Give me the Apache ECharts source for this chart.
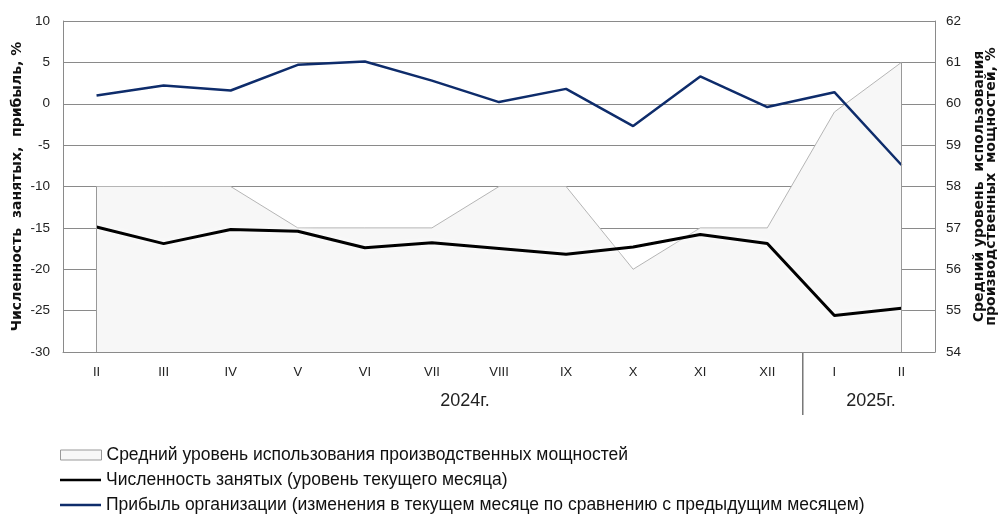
<!DOCTYPE html>
<html>
<head>
<meta charset="utf-8">
<script src="https://cdn.jsdelivr.net/npm/echarts@6/dist/echarts.min.js"></script>
<style>
  html, body { margin: 0; padding: 0; background: #fff; }
  #chart { width: 999px; height: 519px; }
</style>
</head>
<body>
<div id="chart"></div>
<script>
(function () {
    var months = ['II', 'III', 'IV', 'V', 'VI', 'VII', 'VIII', 'IX', 'X', 'XI', 'XII', 'I', 'II'];
    var years = ['2024г.', '2025г.'];
    // количество месяцев в каждом году
    var yearSpan = [11, 2];

    var capacity = [58, 58, 58, 57, 57, 57, 58, 58, 56, 57, 57, 59.8, 61];
    var employed = [-14.9, -16.9, -15.2, -15.4, -17.4, -16.8, -17.5, -18.2, -17.3, -15.8, -16.9, -25.6, -24.7];
    var profit = [1.0, 2.2, 1.6, 4.7, 5.1, 2.8, 0.2, 1.8, -2.7, 3.3, -0.4, 1.4, -7.4];

    var names = [
        'Средний уровень использования производственных мощностей',
        'Численность занятых (уровень текущего месяца)',
        'Прибыль организации (изменения в текущем месяце по сравнению с предыдущим месяцем)'
    ];

    var font = 'Liberation Sans, Arial, sans-serif';
    var titleFont = 'DejaVu Sans, Liberation Sans, sans-serif';
    var gridColor = '#8a8a8a';
    var navy = '#0e2c6b';

    var myChart = echarts.init(document.getElementById('chart'));

    var last = capacity.length - 1;

    function legendRow(name, top, height, style) {
        return {
            orient: 'vertical',
            left: 55,
            top: top,
            itemWidth: 41,
            itemHeight: height,
            icon: 'rect',
            selectedMode: false,
            textStyle: { fontSize: 17.5, color: '#111', fontFamily: font },
            data: [{ name: name, itemStyle: style }]
        };
    }

    var option = {
        animation: false,
        textStyle: { fontFamily: font },
        grid: { left: 63, right: 64, top: 21, height: 331, outerBoundsMode: 'none', containLabel: false },
        legend: [
            legendRow(names[0], 441, 10, { color: '#f7f7f7', borderColor: '#999', borderWidth: 1 }),
            legendRow(names[1], 466, 2.5, { color: '#000', borderWidth: 0 }),
            legendRow(names[2], 491, 2.5, { color: navy, borderWidth: 0 })
        ],
        xAxis: {
            type: 'category',
            data: months,
            boundaryGap: true,
            axisLine: { onZero: false, lineStyle: { color: gridColor } },
            axisTick: { show: false },
            axisLabel: { color: '#222', fontSize: 13, margin: 14 }
        },
        yAxis: [
            {
                type: 'value',
                min: -30,
                max: 10,
                interval: 5,
                name: 'Численность  занятых,  прибыль, %',
                nameLocation: 'middle',
                nameRotate: 90,
                nameGap: 39,
                nameMoveOverlap: false,
                nameTextStyle: { fontSize: 14, fontWeight: 'bold', color: '#111', fontFamily: titleFont },
                axisLine: { show: true, lineStyle: { color: gridColor } },
                axisTick: { show: false },
                axisLabel: { color: '#222', fontSize: 13.5, margin: 13 },
                splitLine: { lineStyle: { color: gridColor, width: 1 } }
            },
            {
                type: 'value',
                min: 54,
                max: 62,
                interval: 1,
                position: 'right',
                name: 'Средний уровень  использования\nпроизводственных  мощностей, %',
                nameLocation: 'middle',
                nameRotate: 90,
                nameGap: 36,
                nameTextStyle: { fontSize: 14, fontWeight: 'bold', color: '#111', lineHeight: 12, fontFamily: titleFont },
                axisLine: { show: true, lineStyle: { color: gridColor } },
                axisTick: { show: false },
                axisLabel: { color: '#222', fontSize: 13.5, margin: 11 },
                splitLine: { show: false }
            }
        ],
        series: [
            {
                name: names[0],
                type: 'line',
                yAxisIndex: 1,
                data: capacity,
                symbol: 'none',
                lineStyle: { color: '#b5b5b5', width: 1 },
                itemStyle: { color: '#f7f7f7' },
                areaStyle: { color: '#f7f7f7', opacity: 1, origin: 'start' },
                z: 1,
                markLine: {
                    silent: true,
                    symbol: 'none',
                    label: { show: false },
                    lineStyle: { color: '#999', type: 'solid', width: 1 },
                    data: [
                        [{ coord: [0, capacity[0]] }, { coord: [0, 54] }],
                        [{ coord: [last, capacity[last]] }, { coord: [last, 54] }]
                    ]
                }
            },
            {
                name: names[1],
                type: 'line',
                yAxisIndex: 0,
                data: employed,
                symbol: 'none',
                itemStyle: { color: '#000' },
                lineStyle: { color: '#000', width: 3, shadowColor: '#fff', shadowBlur: 6 },
                z: 3
            },
            {
                name: names[2],
                type: 'line',
                yAxisIndex: 0,
                data: profit,
                symbol: 'none',
                itemStyle: { color: navy },
                lineStyle: { color: navy, width: 2.5 },
                z: 4
            }
        ]
    };

    myChart.setOption(option);

    // подписи годов и разделитель под осью
    var bottomY = myChart.convertToPixel({ yAxisIndex: 0 }, -30);
    var graphics = [];
    var start = 0;
    for (var i = 0; i < years.length; i++) {
        var x0 = myChart.convertToPixel({ xAxisIndex: 0 }, start);
        var x1 = myChart.convertToPixel({ xAxisIndex: 0 }, start + yearSpan[i] - 1);
        var cx = (x0 + x1) / 2;
        if (i === 0) cx += 33;
        else cx += 3;
        graphics.push({
            type: 'text',
            x: cx,
            y: bottomY + 49,
            style: { text: years[i], font: '18px ' + font, fill: '#222', textAlign: 'center', textVerticalAlign: 'middle' }
        });
        if (i > 0) {
            var prev = myChart.convertToPixel({ xAxisIndex: 0 }, start - 1);
            var bx = (prev + x0) / 2 + 2;
            graphics.push({
                type: 'line',
                shape: { x1: bx, y1: bottomY, x2: bx, y2: bottomY + 63 },
                style: { stroke: '#333', lineWidth: 1 }
            });
        }
        start += yearSpan[i];
    }
    myChart.setOption({ graphic: graphics });

    window.addEventListener('resize', function () {
        myChart.resize();
    });
})();
</script>
</body>
</html>
